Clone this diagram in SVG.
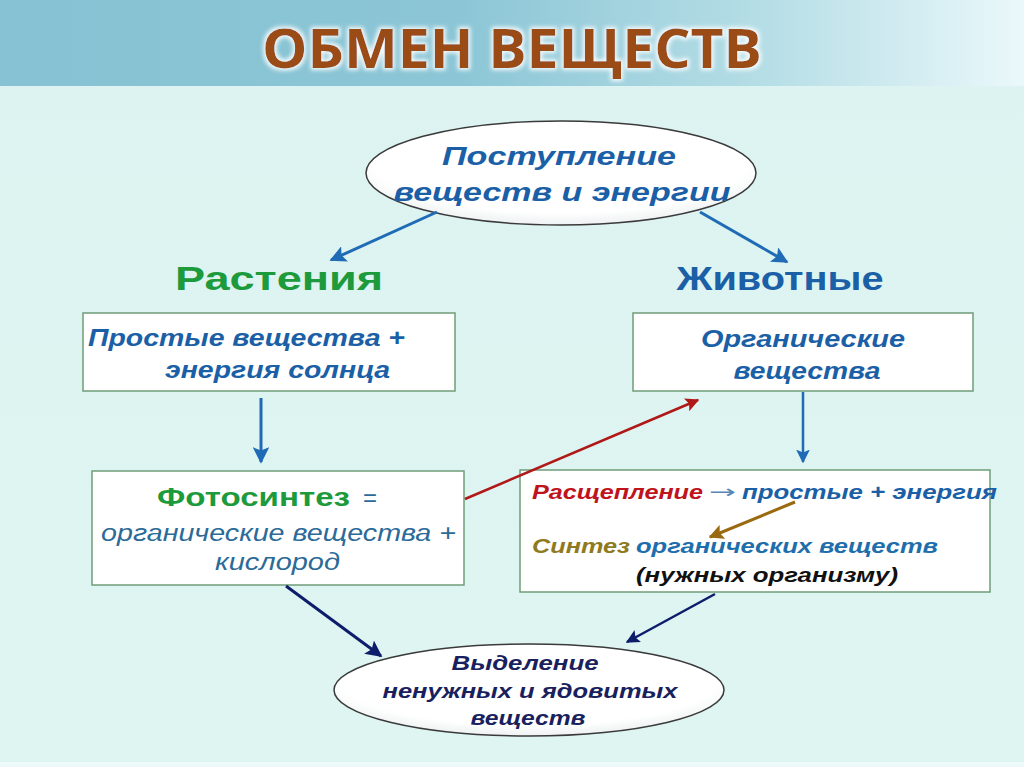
<svg xmlns="http://www.w3.org/2000/svg" width="1024" height="767" viewBox="0 0 1024 767">
<defs>
<linearGradient id="hdr" x1="0" y1="0" x2="1" y2="0">
<stop offset="0" stop-color="#86c2d3"/>
<stop offset="0.45" stop-color="#8cc6d6"/>
<stop offset="0.75" stop-color="#b6dee6"/>
<stop offset="1" stop-color="#eaf8fa"/>
</linearGradient>
<linearGradient id="bg" x1="0" y1="0" x2="0" y2="1">
<stop offset="0" stop-color="#dcf3f1"/>
<stop offset="1" stop-color="#dff5f2"/>
</linearGradient>
<radialGradient id="ell" cx="0.5" cy="0.4" r="0.6">
<stop offset="0" stop-color="#ffffff"/>
<stop offset="0.8" stop-color="#ffffff"/>
<stop offset="1" stop-color="#eef2f2"/>
</radialGradient>
<filter id="glow" x="-10%" y="-30%" width="120%" height="160%">
<feGaussianBlur in="SourceAlpha" stdDeviation="3"/>
<feComponentTransfer><feFuncA type="linear" slope="1.2"/></feComponentTransfer>
<feFlood flood-color="#ffffff" flood-opacity="0.9"/>
<feComposite operator="in" in2="SourceAlpha"/>
<feMorphology operator="dilate" radius="2"/>
<feGaussianBlur stdDeviation="2"/>
<feMerge><feMergeNode/><feMergeNode in="SourceGraphic"/></feMerge>
</filter>
<marker id="mBlue" viewBox="0 0 10 10" refX="9" refY="5" markerWidth="5.5" markerHeight="5.5" orient="auto" markerUnits="strokeWidth"><path d="M0,0 L10,5 L0,10 L2,5 z" fill="#1f6bb5"/></marker>
<marker id="mRed" viewBox="0 0 10 10" refX="9" refY="5" markerWidth="5.5" markerHeight="5.5" orient="auto" markerUnits="strokeWidth"><path d="M0,0 L10,5 L0,10 L2,5 z" fill="#b01818"/></marker>
<marker id="mNavy" viewBox="0 0 10 10" refX="9" refY="5" markerWidth="5.5" markerHeight="5.5" orient="auto" markerUnits="strokeWidth"><path d="M0,0 L10,5 L0,10 L2,5 z" fill="#0d1d6b"/></marker>
<marker id="mBrown" viewBox="0 0 10 10" refX="9" refY="5" markerWidth="5" markerHeight="5" orient="auto" markerUnits="strokeWidth"><path d="M0,0 L10,5 L0,10 L2,5 z" fill="#9a6a10"/></marker>
</defs>
<style>
.box{fill:#ffffff;stroke:#6f9c78;stroke-width:1.5}
.ell{fill:url(#ell);stroke:#3a3a3a;stroke-width:1.5}
.t{font-family:"Liberation Sans",Arial,sans-serif;font-weight:bold;font-style:italic}
.n{font-family:"Liberation Sans",Arial,sans-serif;font-weight:bold}
.blue{fill:#1b5fa6}
.navy{fill:#1a1f5e}
.c{text-anchor:middle}
</style>
<rect x="0" y="0" width="1024" height="767" fill="url(#bg)"/>
<rect x="0" y="0" width="1024" height="86" fill="url(#hdr)"/>
<rect x="0" y="762" width="1024" height="5" fill="#eefafa"/>
<text x="512" y="68" text-anchor="middle" font-family="'Open Sans',sans-serif" font-weight="bold" font-size="54" fill="#9a4b13" textLength="500" lengthAdjust="spacingAndGlyphs" filter="url(#glow)">ОБМЕН ВЕЩЕСТВ</text>

<g id="node-intake">
<ellipse class="ell" cx="561" cy="173" rx="195" ry="52"/>
<text class="t blue c" x="559" y="165" font-size="26" textLength="234" lengthAdjust="spacingAndGlyphs">Поступление</text>
<text class="t blue c" x="562" y="201" font-size="26" textLength="337" lengthAdjust="spacingAndGlyphs">веществ и энергии</text>
</g>

<g id="node-plants-label">
<text class="n c" x="279" y="290" font-size="34" fill="#1d9a3b" textLength="208" lengthAdjust="spacingAndGlyphs">Растения</text>
</g>
<g id="node-animals-label">
<text class="n c blue" x="780" y="290" font-size="34" textLength="207" lengthAdjust="spacingAndGlyphs">Животные</text>
</g>

<g id="node-simple">
<rect class="box" x="83" y="313" width="372" height="78"/>
<text class="t blue" x="88" y="346" font-size="23" textLength="317" lengthAdjust="spacingAndGlyphs">Простые вещества +</text>
<text class="t blue" x="165" y="378" font-size="23" textLength="225" lengthAdjust="spacingAndGlyphs">энергия солнца</text>
</g>

<g id="node-organic">
<rect class="box" x="633" y="313" width="340" height="78"/>
<text class="t blue c" x="803" y="347" font-size="23" textLength="204" lengthAdjust="spacingAndGlyphs">Органические</text>
<text class="t blue c" x="807" y="379" font-size="23" textLength="147" lengthAdjust="spacingAndGlyphs">вещества</text>
</g>

<g id="node-photosynthesis">
<rect class="box" x="92" y="471" width="372" height="114"/>
<text class="n" x="157" y="506" font-size="25" fill="#1d9a3b" textLength="193" lengthAdjust="spacingAndGlyphs">Фотосинтез</text>
<text x="363" y="506" font-family="'Liberation Sans',Arial,sans-serif" font-size="24" fill="#2a6a9a">=</text>
<text x="101" y="541" font-family="'Liberation Sans',Arial,sans-serif" font-style="italic" font-size="23" fill="#2c6a98" textLength="355" lengthAdjust="spacingAndGlyphs">органические вещества +</text>
<text x="215" y="570" font-family="'Liberation Sans',Arial,sans-serif" font-style="italic" font-size="23" fill="#2c6a98" textLength="125" lengthAdjust="spacingAndGlyphs">кислород</text>
</g>

<g id="node-animal-process">
<rect class="box" x="520" y="470" width="470" height="122"/>
<text class="t" x="532" y="499" font-size="20" fill="#c0141c" textLength="171" lengthAdjust="spacingAndGlyphs">Расщепление</text>
<text x="709" y="498" font-family="'DejaVu Sans',sans-serif" font-size="18" fill="#5a86b5" textLength="27" lengthAdjust="spacingAndGlyphs">→</text>
<text class="t blue" x="742" y="499" font-size="20" textLength="255" lengthAdjust="spacingAndGlyphs">простые + энергия</text>
<text class="t" x="532" y="553" font-size="20" fill="#8f7a1e" textLength="98" lengthAdjust="spacingAndGlyphs">Синтез</text>
<text class="t" x="636" y="553" font-size="20" fill="#1f6eac" textLength="302" lengthAdjust="spacingAndGlyphs">органических веществ</text>
<text class="t" x="636" y="582" font-size="20" fill="#111111" textLength="262" lengthAdjust="spacingAndGlyphs">(нужных организму)</text>
</g>

<g id="node-excretion">
<ellipse class="ell" cx="529" cy="690" rx="195" ry="46"/>
<text class="t navy c" x="525" y="670" font-size="21" textLength="147" lengthAdjust="spacingAndGlyphs">Выделение</text>
<text class="t navy c" x="530" y="698" font-size="21" textLength="295" lengthAdjust="spacingAndGlyphs">ненужных и ядовитых</text>
<text class="t navy c" x="528" y="725" font-size="21" textLength="115" lengthAdjust="spacingAndGlyphs">веществ</text>
</g>

<g id="connectors" fill="none">
<line x1="437" y1="212" x2="331" y2="260" stroke="#1f6bb5" stroke-width="3" marker-end="url(#mBlue)"/>
<line x1="700" y1="212" x2="787" y2="262" stroke="#1f6bb5" stroke-width="3" marker-end="url(#mBlue)"/>
<line x1="261" y1="398" x2="261" y2="462" stroke="#1f6bb5" stroke-width="3" marker-end="url(#mBlue)"/>
<line x1="803" y1="392" x2="803" y2="462" stroke="#1f6bb5" stroke-width="2.5" marker-end="url(#mBlue)"/>
<line x1="465" y1="499" x2="698" y2="400" stroke="#b01818" stroke-width="2.5" marker-end="url(#mRed)"/>
<line x1="795" y1="502" x2="710" y2="537" stroke="#9a6a10" stroke-width="3" marker-end="url(#mBrown)"/>
<line x1="286" y1="586" x2="381" y2="656" stroke="#0d1d6b" stroke-width="3" marker-end="url(#mNavy)"/>
<line x1="715" y1="594" x2="627" y2="642" stroke="#0d1d6b" stroke-width="2.5" marker-end="url(#mNavy)"/>
</g>
</svg>
